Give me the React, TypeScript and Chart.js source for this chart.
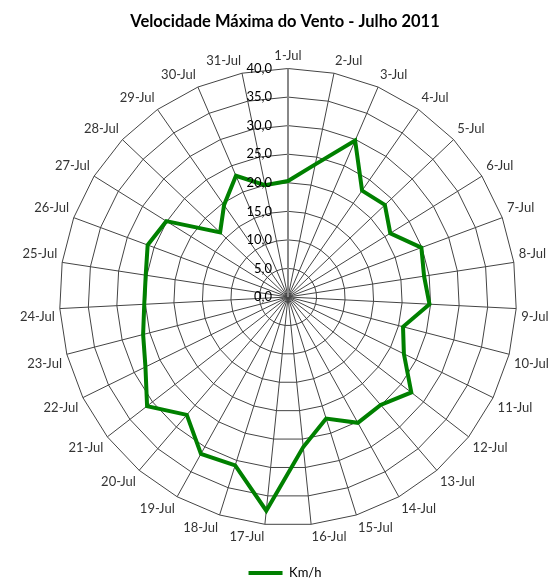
import React, { useEffect, useRef } from "react";
import { Chart, registerables } from "chart.js";

Chart.register(...registerables);

const TITLE = "Velocidade Máxima do Vento - Julho 2011";
const SERIES_NAME = "Km/h";
const DAYS = [
  "1-Jul", "2-Jul", "3-Jul", "4-Jul", "5-Jul", "6-Jul", "7-Jul", "8-Jul",
  "9-Jul", "10-Jul", "11-Jul", "12-Jul", "13-Jul", "14-Jul", "15-Jul", "16-Jul",
  "17-Jul", "18-Jul", "19-Jul", "20-Jul", "21-Jul", "22-Jul", "23-Jul", "24-Jul",
  "25-Jul", "26-Jul", "27-Jul", "28-Jul", "29-Jul", "30-Jul", "31-Jul",
];
const WIND_MAX = [
  20.3, 23.7, 29.8, 22.7, 23.4, 21.1, 24.9, 24.1,
  24.8, 20.8, 22.6, 27.3, 24.9, 25.2, 22.3, 26.4,
  37.6, 30.9, 31.4, 27.2, 31.2, 27.8, 26.2, 25.2,
  25.2, 26.2, 25.1, 16.4, 19.6, 23.1, 20.0,
];
const TICK_VALUES = [0, 5, 10, 15, 20, 25, 30, 35, 40];
const TICK_LABELS = ["0,0", "5,0", "10,0", "15,0", "20,0", "25,0", "30,0", "35,0", "40,0"];

const FONT = "Lato, 'Open Sans', sans-serif";

const tickLabelPlugin = {
  id: "tickLabelPlugin",
  afterDatasetsDraw(chart: any) {
    const s = chart.scales.r;
    const ctx = chart.ctx;
    ctx.save();
    ctx.font = `13px ${FONT}`;
    ctx.fillStyle = "#000";
    ctx.textAlign = "right";
    ctx.textBaseline = "middle";
    TICK_VALUES.forEach((v, i) => {
      const d = s.getDistanceFromCenterForValue(v);
      ctx.fillText(TICK_LABELS[i], s.xCenter - 16, s.yCenter - d);
    });
    ctx.restore();
  },
};

export default function App() {
  const ref = useRef<HTMLCanvasElement | null>(null);
  useEffect(() => {
    if (!ref.current) return;
    const chart = new Chart(ref.current, {
      type: "radar",
      data: {
        labels: DAYS,
        datasets: [
          {
            label: SERIES_NAME,
            data: WIND_MAX,
            borderColor: "#008000",
            backgroundColor: "#008000",
            borderWidth: 4,
            fill: false,
            pointRadius: 0,
            pointHoverRadius: 0,
            tension: 0,
            borderJoinStyle: "miter",
          },
        ],
      },
      options: {
        responsive: false,
        animation: false,
        layout: { padding: { left: 17, right: 6, top: 0, bottom: -9.5 } },
        plugins: {
          title: {
            display: true,
            text: TITLE,
            color: "#000",
            font: { family: FONT, size: 16.5, weight: "bold" },
            padding: { top: 12, bottom: 13 },
          },
          legend: {
            position: "bottom",
            labels: {
              color: "#333",
              font: { family: FONT, size: 13 },
              boxWidth: 34,
              boxHeight: 4,
              padding: 18.5,
              generateLabels: () => [
                {
                  text: SERIES_NAME,
                  fillStyle: "#008000",
                  strokeStyle: "#008000",
                  lineWidth: 0,
                  hidden: false,
                  datasetIndex: 0,
                },
              ],
            },
          },
          tooltip: { enabled: false },
        },
        scales: {
          r: {
            min: 0,
            max: 40,
            ticks: { stepSize: 5, display: false },
            grid: { color: "#444", lineWidth: 1 },
            angleLines: {
              color: (c: any) => (c.index === 0 ? "#888" : "#444"),
              lineWidth: (c: any) => (c.index === 0 ? 2 : 1),
            },
            pointLabels: {
              color: "#333",
              font: { family: FONT, size: 13 },
              padding: 5,
            },
          },
        },
      },
      plugins: [tickLabelPlugin],
    });
    return () => chart.destroy();
  }, []);
  return (
    <div style={{ position: "absolute", left: 0, top: 0, width: 559, height: 580 }}>
      <canvas ref={ref} width={559} height={580} />
    </div>
  );
}
